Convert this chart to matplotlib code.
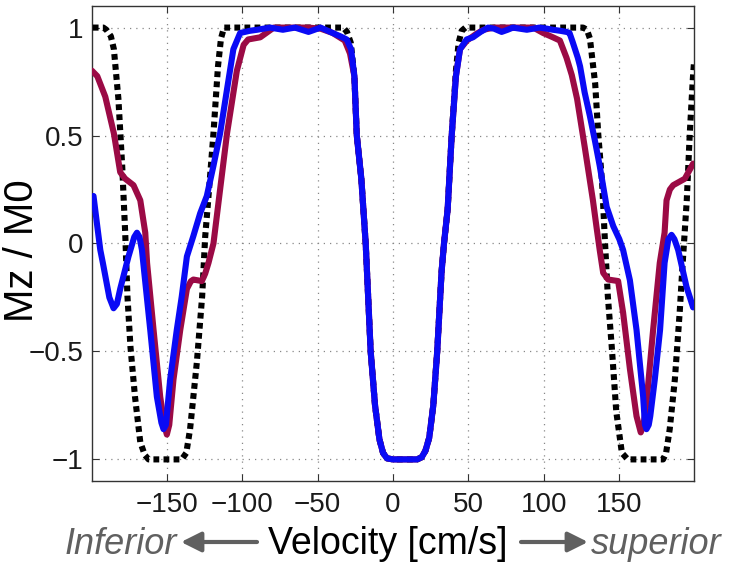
import matplotlib.pyplot as plt
plt.switch_backend("Agg")

plt.rcParams['font.family'] = ['Liberation Sans', 'DejaVu Sans']

# black dashed curve
vel_black = [-199, -192, -190, -187, -185, -182, -179.5, -177.5, -176, -174, -171, -167.5,
             -164.5, -162, -140, -137, -134.5, -130, -126.5, -124.5, -122.5, -119, -116,
             -114, -112, -33, -30.5, -28, -25.6, -24, -21, -18.1, -14.8, -11.9, -9, -6.6,
             -4, 0, 8, 16, 19, 21.5, 24, 26.7, 29.3, 32.2, 33.8, 36.2, 38.9, 41.7, 43.5,
             45.5, 48, 126, 128.5, 130.5, 134, 136, 138.6, 140.4, 142.4, 145, 148, 151.7,
             155.6, 179, 181, 183.4, 186.8, 190, 192, 194.7, 196.7, 198.7, 199.5]
mz_black = [1.0, 1.0, 0.99, 0.96, 0.9, 0.67, 0.36, 0.05, -0.245, -0.48, -0.71, -0.92,
            -0.98, -1.0, -1.0, -0.97, -0.86, -0.55, -0.245, 0.03, 0.2, 0.51, 0.82,
            0.95, 1.0, 1.0, 0.98, 0.93, 0.775, 0.5, 0.3, 0.0, -0.5, -0.75, -0.907, -0.97,
            -0.995, -1.0, -1.0, -1.0, -0.99, -0.96, -0.9, -0.75, -0.5, -0.13, 0.0, 0.157,
            0.5, 0.8, 0.93, 0.985, 1.0, 1.0, 0.99, 0.95, 0.74, 0.51, 0.28, 0.02, -0.245,
            -0.48, -0.78, -0.97, -1.0, -1.0, -0.97, -0.86, -0.63, -0.32, -0.09, 0.2, 0.51,
            0.76, 0.84]

# maroon curve
vel_red = [-199.5, -196, -190.7, -185, -180.8, -177.5, -172, -167.5, -164.2, -163,
           -158.7, -154.3, -151.5, -149.9, -148.3, -145.5, -141, -136.6, -134, -132.3,
           -126.7, -124.5, -122.3, -119, -114.6, -110, -103.5, -99, -96, -92, -88, -85,
           -79, -73, -65, -56, -48, -40, -32, -28.5, -25.6, -24, -21, -18.1, -14.8, -11.9,
           -9, -6.6, -4, 0, 8, 16, 19, 21.5, 24, 26.7, 29.3, 32.2, 33.8, 36.2, 38.9, 41.7,
           44.4, 49, 55, 60, 67, 80, 93, 99.5, 106, 110.6, 115, 118.5, 122, 127, 132.5,
           135, 137, 139.3, 142.6, 149.2, 152.5, 157, 161.4, 164.2, 166, 168, 172.4, 176.8,
           180, 181.3, 183.5, 185.7, 193.4, 198.9]
mz_red = [0.8, 0.775, 0.68, 0.51, 0.33, 0.3, 0.27, 0.2, 0.05, -0.09,
          -0.4, -0.71, -0.84, -0.885, -0.84, -0.63, -0.4, -0.21, -0.175, -0.167,
          -0.174, -0.14, -0.09, 0.0, 0.25, 0.51, 0.8, 0.92, 0.945, 0.95, 0.955, 0.97,
          1.0, 1.0, 1.0, 1.0, 0.995, 0.975, 0.94, 0.88, 0.775, 0.5, 0.3, 0.0, -0.5, -0.75,
          -0.907, -0.97, -0.995, -1.0, -1.0, -1.0, -0.99, -0.96, -0.9, -0.75, -0.5, -0.13,
          0.0, 0.157, 0.5, 0.775, 0.9, 0.94, 0.97, 0.99, 1.0, 1.0, 1.0, 0.975, 0.955, 0.94,
          0.86, 0.78, 0.67, 0.45, 0.2, 0.07, -0.03, -0.136, -0.167, -0.174, -0.32, -0.58,
          -0.8, -0.875, -0.84, -0.74, -0.4, -0.09, 0.05, 0.2, 0.25, 0.27, 0.3, 0.37]

# blue curve
vel_blue = [-198.5, -196, -194, -192.3, -188, -185.2, -183, -180.8, -175.3, -171.5, -169.7,
            -168, -166.4, -160.9, -156.5, -153.5, -152.1, -150.5, -147.7, -143.3, -140,
            -136.6, -132.3, -127.8, -123.4, -119, -114.6, -110.1, -105.8, -101.3, -95, -90,
            -81.5, -73, -65, -56, -48, -40, -35, -30.7, -27.8, -25.6, -24, -21, -18.1,
            -14.8, -11.9, -9, -6.6, -4, 0, 8, 16, 19, 21.5, 24, 26.7, 29.3, 32.2, 33.8,
            36.2, 38.9, 41.7, 44.4, 48.8, 53, 58, 63, 67, 72, 76, 79.5, 84, 88.7, 93, 97,
            102, 106, 111, 115, 117, 119, 122.5, 124, 127, 130.5, 134, 137, 141.6, 146,
            150, 152.5, 157, 161.4, 165.8, 167, 168, 169.5, 170.5, 173.5, 177, 180, 182.5,
            184.6, 186.5, 189, 194.5, 198.9]
mz_blue = [0.22, 0.08, -0.03, -0.09, -0.25, -0.3, -0.28, -0.21, -0.06, 0.03, 0.05,
           0.03, -0.03, -0.4, -0.71, -0.83, -0.86, -0.84, -0.63, -0.4, -0.245,
           -0.06, 0.035, 0.14, 0.22, 0.36, 0.51, 0.71, 0.9, 0.975, 0.985, 0.99,
           1.0, 0.99, 1.0, 0.98, 1.0, 0.975, 0.96, 0.945, 0.9, 0.775, 0.5, 0.3, 0.0,
           -0.5, -0.75, -0.907, -0.97, -0.995, -1.0, -1.0, -1.0, -0.99, -0.96, -0.9, -0.75,
           -0.5, -0.13, 0.0, 0.157, 0.5, 0.775, 0.9, 0.945, 0.955, 0.98, 1.0, 0.995, 0.98,
           0.99, 1.0, 0.995, 0.99, 0.995, 1.0, 0.995, 0.99, 0.985, 0.98, 0.975, 0.935,
           0.86, 0.82, 0.7, 0.59, 0.47, 0.36, 0.17, 0.08, 0.02, -0.03, -0.17, -0.4, -0.71,
           -0.84, -0.86, -0.84, -0.8, -0.63, -0.4, -0.09, 0.02, 0.04, 0.02, -0.03, -0.2,
           -0.296]

x_ticks = [-150, -100, -50, 0, 50, 100, 150]
y_ticks = [-1, -0.5, 0, 0.5, 1]
y_ticklabels = ['\u22121', '\u22120.5', '0', '0.5', '1']

fig = plt.figure(figsize=(7.29, 5.66), dpi=100)
ax = fig.add_axes([0.1262, 0.1502, 0.8258, 0.8392])

ax.plot(vel_black, mz_black, color='black', lw=4.4, linestyle=(0, (0.95, 0.7)),
        dash_capstyle='butt', zorder=3)
ax.plot(vel_red, mz_red, color='#9b0a45', lw=4.4, solid_joinstyle='round',
        solid_capstyle='round', zorder=4)
ax.plot(vel_blue, mz_blue, color='#0a0af5', lw=4.4, solid_joinstyle='round',
        solid_capstyle='round', zorder=5)

ax.set_xlim(-199.5, 199.5)
ax.set_ylim(-1.1, 1.1)
ax.set_xticks(x_ticks)
ax.set_yticks(y_ticks)
ax.set_yticklabels(y_ticklabels)
ax.tick_params(direction='in', length=5, width=0.8, labelsize=20, top=True, right=True,
               colors='#333333', labelcolor='#1a1a1a')
ax.tick_params(axis='x', pad=8)
ax.tick_params(axis='y', pad=6)
ax.grid(True, linestyle=(0, (1, 4)), color='#888888', lw=0.9)
for sp in ax.spines.values():
    sp.set_color('#333333')
    sp.set_linewidth(1.0)

fig.text(22 / 729, 1 - 251 / 566, 'Mz / M0', rotation=90, fontsize=29,
         ha='center', va='center')

base_y = 1 - 554 / 566
fig.text(388 / 729, base_y, 'Velocity [cm/s]', fontsize=27, ha='center', va='baseline')
fig.text(177 / 729, base_y, 'Inferior', fontsize=26, style='italic', color='#606060',
         ha='right', va='baseline')
fig.text(591 / 729, base_y, 'superior', fontsize=26, style='italic', color='#606060',
         ha='left', va='baseline')

arr_y = 1 - 542 / 566
arrow_kw = dict(arrowstyle='-|>', lw=3, color='#606060', mutation_scale=30,
                shrinkA=0, shrinkB=0)
fig.add_artist(plt.matplotlib.patches.FancyArrowPatch(
    (257 / 729, arr_y), (181 / 729, arr_y), transform=fig.transFigure, **arrow_kw))
fig.add_artist(plt.matplotlib.patches.FancyArrowPatch(
    (521 / 729, arr_y), (588 / 729, arr_y), transform=fig.transFigure, **arrow_kw))

plt.savefig("out.png", dpi=100)
